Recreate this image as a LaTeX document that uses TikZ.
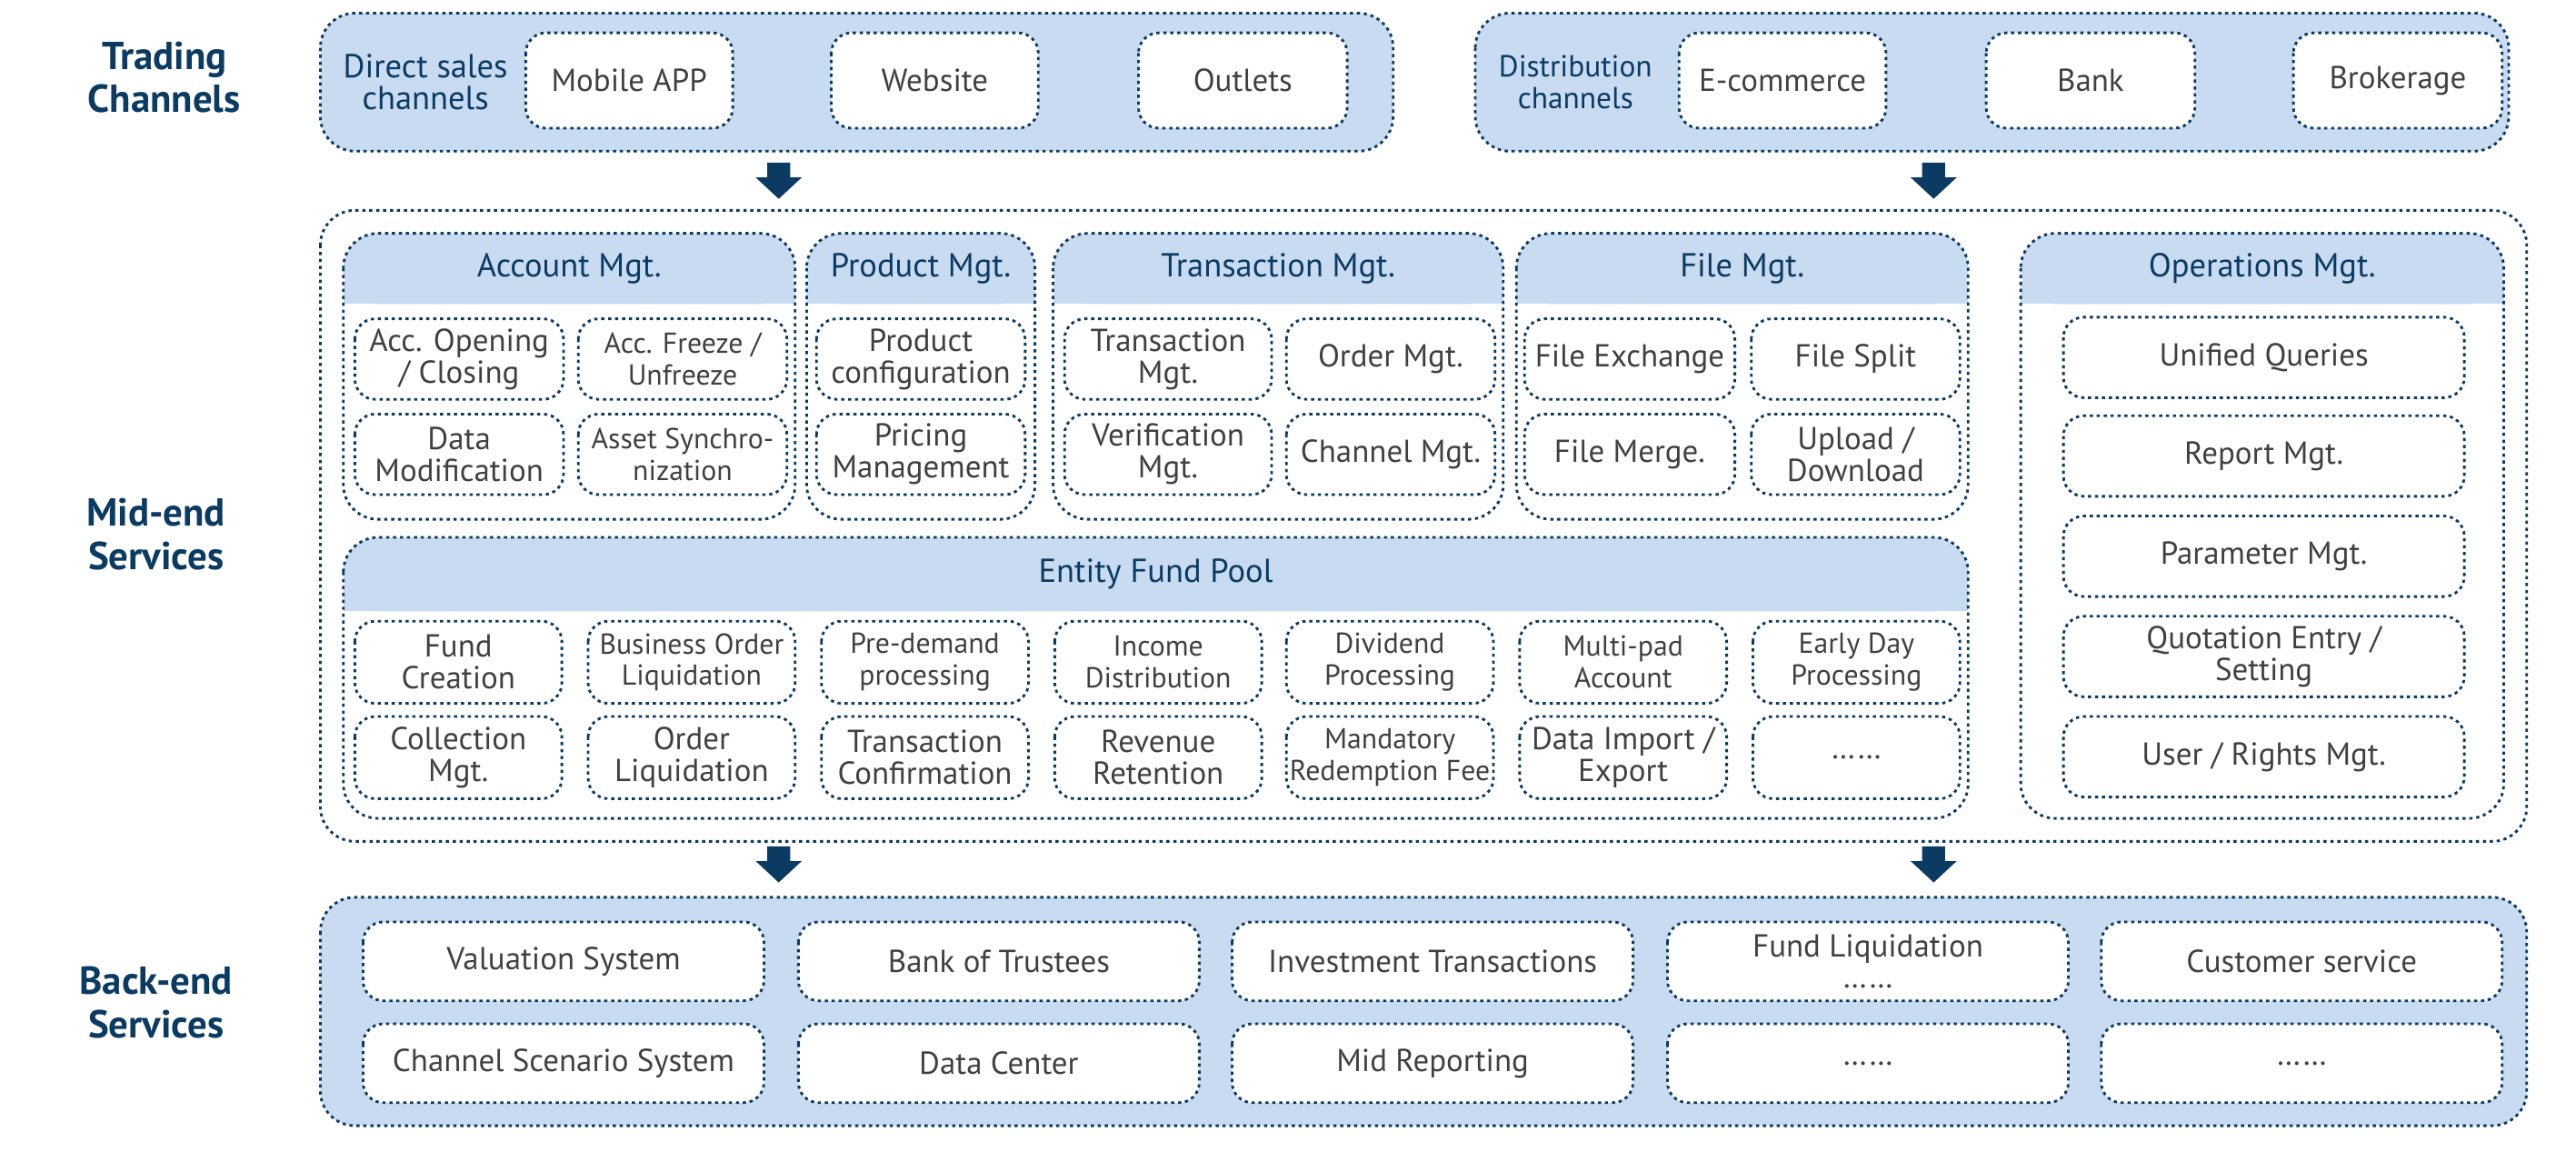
\documentclass[tikz,border=0pt]{standalone}
\usepackage{fontspec}
\setmainfont{PT Sans}
\usetikzlibrary{positioning}
\definecolor{navy}{RGB}{11,58,99}
\definecolor{hdr}{RGB}{200,219,240}
\definecolor{ink}{RGB}{64,64,64}
\newcommand\bx[6]{\draw[box] (#2,#3) rectangle (#4,#5);
  \node[txt] (#1) at ({(#2+#4)/2},{(#3+#5)/2}) {#6};}
\newcommand\panel[7]{\fill[white,rounded corners=12] (#2,#3) rectangle (#4,#5);
  \fill[hdr,rounded corners=12] (#2,#3) rectangle (#4,#6);
  \fill[hdr] (#2,#6-14) rectangle (#4,#6);
  \draw[frame,rounded corners=12] (#2,#3) rectangle (#4,#5);
  \node[head] (#1) at ({(#2+#4)/2},{(#3+#6)/2}) {#7};}
\newcommand\darr[2]{\fill[navy] (#1-7,#2) -- (#1+7,#2) -- (#1+7,#2+9) -- (#1+14,#2+9)
  -- (#1,#2+22) -- (#1-14,#2+9) -- (#1-7,#2+9) -- cycle;}
\begin{document}
\begin{tikzpicture}
	[x=0.2mm,y=-0.2mm,
	frame/.style={draw=navy, line width=0.9pt, dash pattern=on 1.1pt off 1.3pt},
	box/.style={frame, fill=white, rounded corners=7},
	txt/.style={text=ink, align=center, font=\fontsize{11}{11}\selectfont},
	head/.style={text=navy, align=center, font=\fontsize{11.5}{11}\selectfont},
	side/.style={text=navy, align=center, font=\fontsize{13.5}{15}\selectfont\bfseries}]
\useasboundingbox (0,0) rectangle (1568,701);

% row labels
\node [side] (trading) at (100,47) {Trading\\Channels};
\node [side] (midend) at (95,325) {Mid-end\\Services};
\node [side] (backend) at (95,610) {Back-end\\Services};

% trading channels
\fill [hdr,rounded corners=12] (195,8) rectangle (848,92);
\draw [frame,rounded corners=12] (195,8) rectangle (848,92);
\fill [hdr,rounded corners=12] (898,8) rectangle (1527,92);
\draw [frame,rounded corners=12] (898,8) rectangle (1527,92);
\node [head] (direct) at (259,50) {Direct sales\\channels};
\node [head,font=\fontsize{10.5}{11}\selectfont] (distrib) at (959,50) {Distribution\\channels};
\bx{app}{320}{20}{446}{78}{Mobile APP}
\bx{web}{506}{20}{632}{78}{Website}
\bx{outlet}{693}{20}{820}{78}{Outlets}
\bx{ecom}{1022}{20}{1148}{78}{E-commerce}
\bx{bank}{1209}{20}{1336}{78}{Bank}
\bx{broker}{1396}{20}{1523}{78}{Brokerage}
\darr{474}{99}
\darr{1177}{99}

% mid-end services
\draw [frame,fill=white,rounded corners=12] (195,128) rectangle (1538,512);
\panel{account}{209}{142}{484}{316}{185}{Account Mgt.}
\panel{product}{491}{142}{630}{316}{185}{Product Mgt.}
\panel{trans}{641}{142}{915}{316}{185}{Transaction Mgt.}
\panel{file}{923}{142}{1198}{316}{185}{File Mgt.}
\panel{ops}{1230}{142}{1524}{498}{185}{Operations Mgt.}
\panel{pool}{209}{327}{1198}{498}{372}{Entity Fund Pool}

\bx{accopen}{216}{194}{343}{243}{Acc. Opening\\/ Closing}
\bx{accfreeze}{352}{194}{479}{243}{\fontsize{10}{10}\selectfont Acc. Freeze /\\\fontsize{10}{10}\selectfont Unfreeze}
\bx{datamod}{216}{252}{343}{301}{Data\\Modification}
\bx{assetsync}{352}{252}{479}{301}{\fontsize{10}{10}\selectfont Asset Synchro-\\\fontsize{10}{10}\selectfont nization}
\bx{prodconf}{497}{194}{624}{243}{Product\\configuration}
\bx{pricing}{497}{252}{624}{301}{Pricing\\Management}
\bx{transmgt}{648}{194}{774}{243}{Transaction\\Mgt.}
\bx{ordermgt}{783}{194}{910}{243}{Order Mgt.}
\bx{verif}{648}{252}{774}{301}{Verification\\Mgt.}
\bx{chanmgt}{783}{252}{910}{301}{Channel Mgt.}
\bx{fexch}{928}{194}{1056}{243}{File Exchange}
\bx{fsplit}{1066}{194}{1193}{243}{File Split}
\bx{fmerge}{928}{252}{1056}{301}{File Merge.}
\bx{upload}{1066}{252}{1193}{301}{Upload /\\Download}

\bx{queries}{1256}{193}{1500}{242}{Unified Queries}
\bx{report}{1256}{253}{1500}{302}{Report Mgt.}
\bx{param}{1256}{314}{1500}{363}{Parameter Mgt.}
\bx{quote}{1256}{375}{1500}{424}{Quotation Entry /\\Setting}
\bx{rights}{1256}{436}{1500}{485}{User / Rights Mgt.}

\foreach \n/\x/\t in {fundcr/216/Fund\\Creation,
  bizliq/358/{\fontsize{10}{10}\selectfont Business Order\\\fontsize{10}{10}\selectfont Liquidation},
  predem/500/{\fontsize{10}{10}\selectfont Pre-demand\\\fontsize{10}{10}\selectfont processing},
  income/642/{\fontsize{10}{10}\selectfont Income\\\fontsize{10}{10}\selectfont Distribution},
  divid/783/{\fontsize{10}{10}\selectfont Dividend\\\fontsize{10}{10}\selectfont Processing},
  multipad/925/{\fontsize{10}{10}\selectfont Multi-pad\\\fontsize{10}{10}\selectfont Account},
  earlyday/1067/{\fontsize{10}{10}\selectfont Early Day\\\fontsize{10}{10}\selectfont Processing}}
  {\bx{\n}{\x}{378}{\x+126}{428}{\t}}
\foreach \n/\x/\t in {collect/216/Collection\\Mgt.,
  orderliq/358/Order\\Liquidation,
  transconf/500/Transaction\\Confirmation,
  revenue/642/Revenue\\Retention,
  mandfee/783/{\fontsize{10}{10}\selectfont Mandatory\\\fontsize{10}{10}\selectfont Redemption Fee},
  dataimp/925/{Data Import /\\Export},
  poolmore/1067/\ldots\ldots}
  {\bx{\n}{\x}{436}{\x+126}{486}{\t}}
\darr{474}{515}
\darr{1177}{515}

% back-end services
\fill [hdr,rounded corners=12] (195,546) rectangle (1538,685);
\draw [frame,rounded corners=12] (195,546) rectangle (1538,685);
\foreach \n/\x/\t in {valuation/221/Valuation System,
  trustees/486/Bank of Trustees,
  invest/750/Investment Transactions,
  fundliq/1015/{Fund Liquidation\\\ldots\ldots},
  custserv/1279/Customer service}
  {\bx{\n}{\x}{561}{\x+244}{609}{\t}}
\foreach \n/\x/\t in {scenario/221/Channel Scenario System,
  datactr/486/Data Center,
  midrep/750/Mid Reporting,
  backmore/1015/\ldots\ldots,
  backmoreb/1279/\ldots\ldots}
  {\bx{\n}{\x}{623}{\x+244}{671}{\t}}

\end{tikzpicture}
\end{document}
